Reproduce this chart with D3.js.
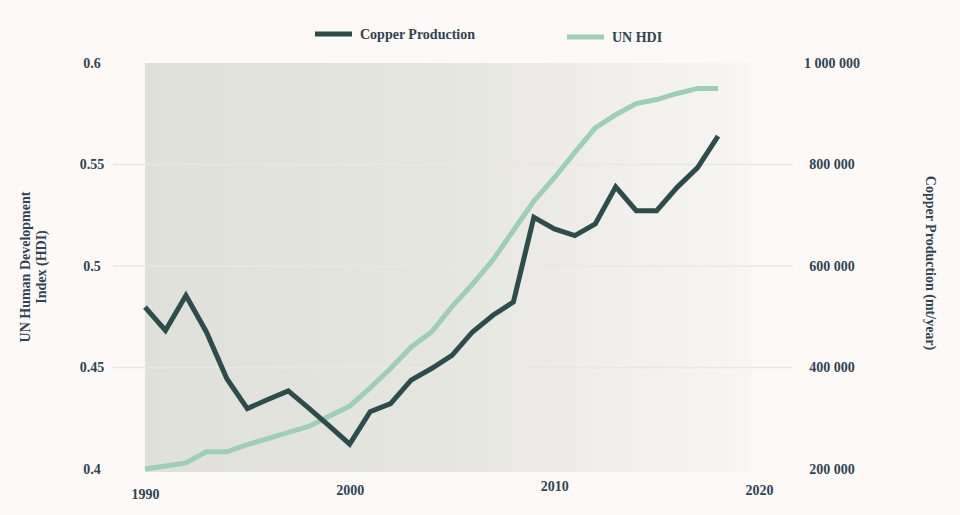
<!DOCTYPE html>
<html>
<head>
<meta charset="utf-8">
<script src="https://cdn.jsdelivr.net/npm/d3@7"></script>
<style>
    body { margin: 0; background: #fcf9f6; }
    svg text { font-family: "Liberation Serif", "DejaVu Serif", serif; font-weight: bold; fill: #2f4354; }
</style>
</head>
<body>
<svg id="chart" width="960" height="515"></svg>
<script>
// data
var years = d3.range(1990, 2019);
var copper = [519000, 473000, 542000, 470000, 378000, 319000, 337000, 354000, 320000, 285000,
    249000, 313000, 329000, 375000, 398000, 424000, 470000, 503000, 529000, 696000,
    673000, 660000, 683000, 756000, 709000, 709000, 755000, 794000, 856000];
var hdi = [0.400, 0.4015, 0.403, 0.4085, 0.4085, 0.412, 0.415, 0.418, 0.421, 0.426,
    0.431, 0.440, 0.4495, 0.460, 0.4675, 0.480, 0.491, 0.503, 0.5175, 0.532,
    0.5435, 0.556, 0.568, 0.5745, 0.580, 0.582, 0.585, 0.5875, 0.5875];
var xTicks = [1990, 2000, 2010, 2020];
var hdiTicks = [0.4, 0.45, 0.5, 0.55, 0.6];
var copperTicks = [200000, 400000, 600000, 800000, 1000000];

var svg = d3.select('#chart');
var plotLeft = 145, plotRight = 759, plotTop = 63, plotBottom = 469;

var x = d3.scaleLinear().domain([1990, 2020]).range([plotLeft, plotRight]);
var yHdi = d3.scaleLinear().domain([0.4, 0.6]).range([plotBottom, plotTop]);
var yCu = d3.scaleLinear().domain([200000, 1000000]).range([plotBottom, plotTop]);

var fmtCu = function(v) {
    return d3.format(',d')(v).replace(/,/g, ' ');
};

// plot background fading out to the right
var grad = svg.append('defs').append('linearGradient')
    .attr('id', 'bg-grad')
    .attr('x1', '0%').attr('x2', '100%');
grad.append('stop').attr('offset', '0%').attr('stop-color', '#dfe0da');
grad.append('stop').attr('offset', '50%').attr('stop-color', '#e6e6e1');
grad.append('stop').attr('offset', '100%').attr('stop-color', '#f8f6f3');

svg.append('rect')
    .attr('x', plotLeft)
    .attr('y', plotTop)
    .attr('width', x(2019.65) - plotLeft)
    .attr('height', plotBottom - plotTop + 3)
    .attr('fill', 'url(#bg-grad)');

// grid lines
svg.append('g')
    .selectAll('line')
    .data(hdiTicks.slice(1, -1))
    .enter()
    .append('line')
    .attr('x1', 113).attr('x2', 793)
    .attr('y1', function(d) { return yHdi(d); })
    .attr('y2', function(d) { return yHdi(d); })
    .attr('stroke', '#e9e7e2')
    .attr('stroke-width', 1.5);

// left axis
var axL = svg.append('g')
    .attr('transform', 'translate(92,0)')
    .call(d3.axisLeft(yHdi).tickValues(hdiTicks).tickSize(0).tickFormat(d3.format('')));
axL.select('.domain').remove();
axL.selectAll('text')
    .attr('x', 0)
    .attr('text-anchor', 'middle')
    .style('font-size', '14px');

// right axis
var axR = svg.append('g')
    .attr('transform', 'translate(832,0)')
    .call(d3.axisRight(yCu).tickValues(copperTicks).tickSize(0).tickFormat(fmtCu));
axR.select('.domain').remove();
axR.selectAll('text')
    .attr('x', 0)
    .attr('text-anchor', 'middle')
    .style('font-size', '14px');

// bottom axis (labels sit a little unevenly in the original)
var xNudge = [4, 0, -4, 0];
var axB = svg.append('g')
    .attr('transform', 'translate(0,' + (plotBottom + 13) + ')')
    .call(d3.axisBottom(x).tickValues(xTicks).tickSize(0).tickFormat(d3.format('d')));
axB.select('.domain').remove();
axB.selectAll('text')
    .attr('y', function(d, i) { return xNudge[i]; })
    .attr('dy', '0.9em')
    .style('font-size', '14px');

// axis titles
svg.append('text')
    .attr('transform', 'translate(30,267) rotate(-90)')
    .attr('text-anchor', 'middle')
    .style('font-size', '14px')
    .selectAll('tspan')
    .data(['UN Human Development', 'Index (HDI)'])
    .enter()
    .append('tspan')
    .attr('x', 0)
    .attr('dy', function(d, i) { return i ? '1.15em' : 0; })
    .text(function(d) { return d; });

svg.append('text')
    .attr('transform', 'translate(926,263) rotate(90)')
    .attr('text-anchor', 'middle')
    .style('font-size', '14px')
    .text('Copper Production (mt/year)');

// lines
var hdiLine = d3.line()
    .x(function(d, i) { return x(years[i]); })
    .y(function(d) { return yHdi(d); });
var cuLine = d3.line()
    .x(function(d, i) { return x(years[i]); })
    .y(function(d) { return yCu(d); });

svg.append('path')
    .attr('d', hdiLine(hdi))
    .attr('fill', 'none')
    .attr('stroke', '#9dcfb5')
    .attr('stroke-width', 5);

svg.append('path')
    .attr('d', cuLine(copper))
    .attr('fill', 'none')
    .attr('stroke', '#2d4c4c')
    .attr('stroke-width', 5);

// legend
var legend = [
    { name: 'Copper Production', color: '#2d4c4c', x: 315, y: 34 },
    { name: 'UN HDI', color: '#9dcfb5', x: 567, y: 37 }
];
var lg = svg.append('g')
    .selectAll('g')
    .data(legend)
    .enter()
    .append('g')
    .attr('transform', function(d) { return 'translate(' + d.x + ',' + d.y + ')'; });
lg.append('rect')
    .attr('x', 0).attr('y', -2.5)
    .attr('width', 37).attr('height', 5)
    .attr('fill', function(d) { return d.color; });
lg.append('text')
    .attr('x', 45)
    .attr('dy', '0.33em')
    .style('font-size', '14px')
    .text(function(d) { return d.name; });
</script>
</body>
</html>
